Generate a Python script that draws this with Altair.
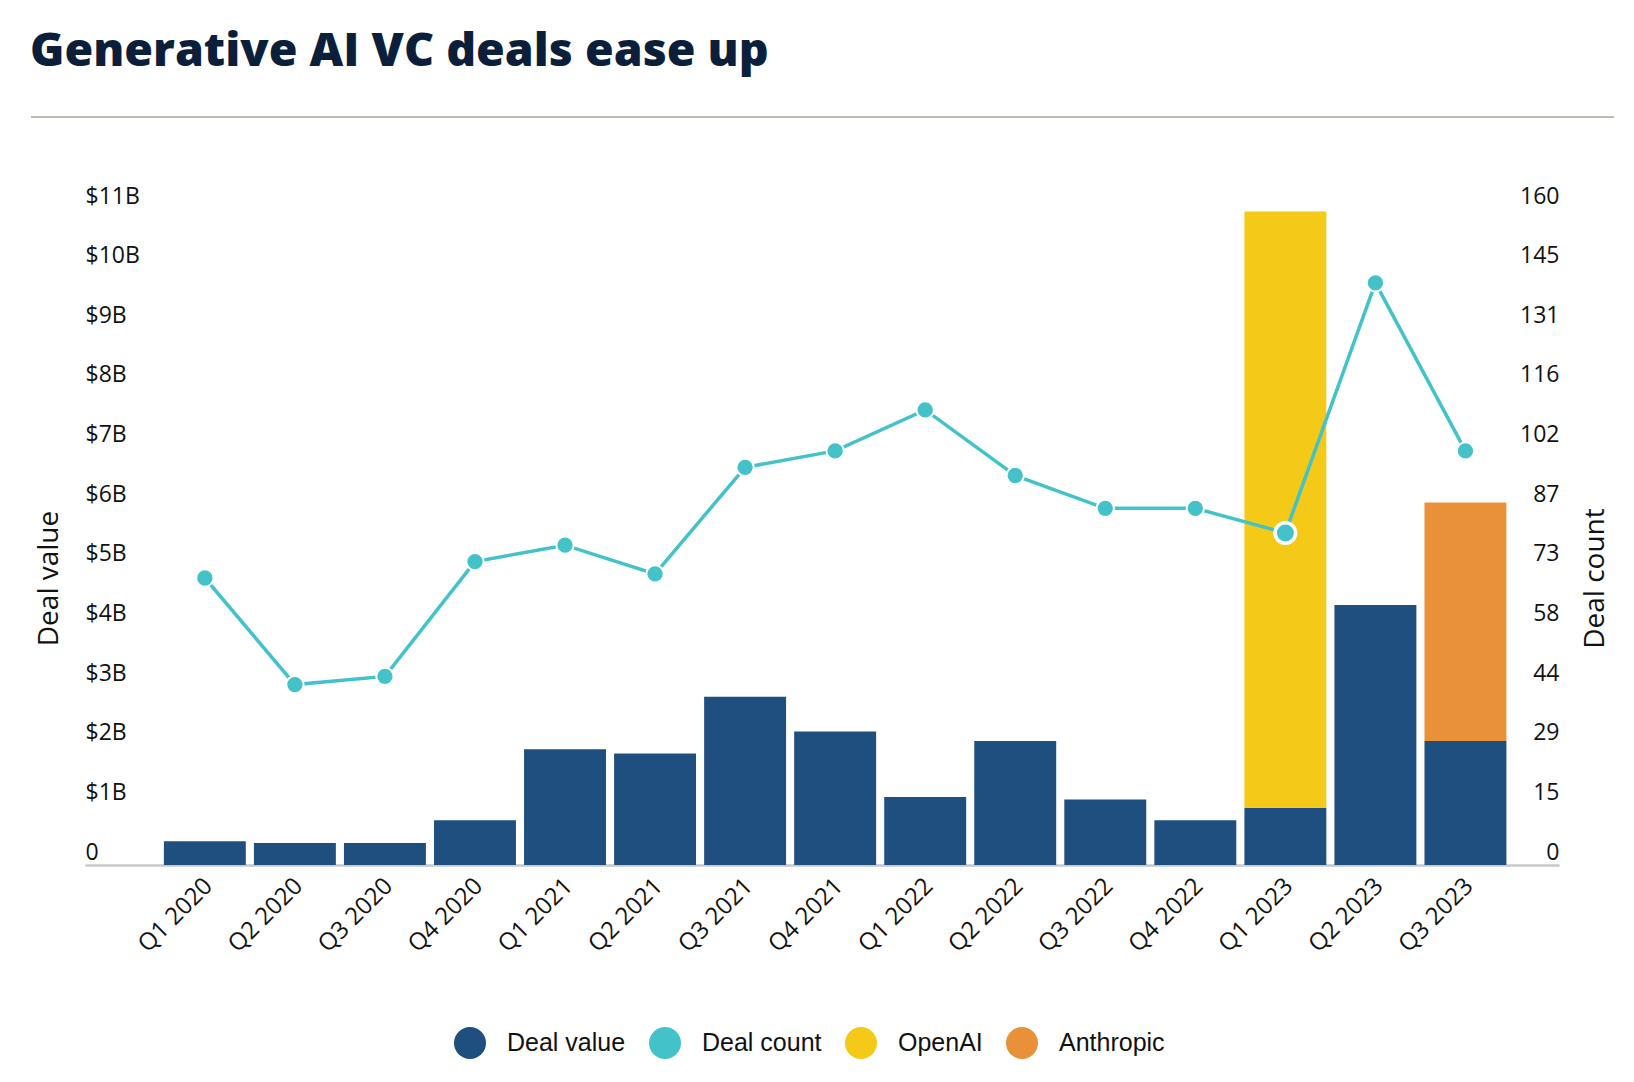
import altair as alt
import pandas as pd

# ---- data ----
quarters = ["Q1 2020", "Q2 2020", "Q3 2020", "Q4 2020",
            "Q1 2021", "Q2 2021", "Q3 2021", "Q4 2021",
            "Q1 2022", "Q2 2022", "Q3 2022", "Q4 2022",
            "Q1 2023", "Q2 2023", "Q3 2023"]
deal_value_b = [0.40, 0.37, 0.37, 0.75, 1.94, 1.87, 2.82, 2.24,
                1.14, 2.08, 1.10, 0.75, 0.96, 4.36, 2.08]
deal_count = [70, 44, 46, 74, 78, 71, 97, 101, 111, 95, 87, 87, 81, 142, 101]
openai_quarter = ["Q1 2023"]
openai_value_b = [10.0]
anthropic_quarter = ["Q3 2023"]
anthropic_value_b = [4.0]
highlight_quarter = "Q1 2023"

series_names = ["Deal value", "Deal count", "OpenAI", "Anthropic"]
series_colors = ["#1f4f7e", "#43c3c9", "#f5c917", "#e99138"]

value_ticks = list(range(0, 12))
value_tick_labels = ["0", "$1B", "$2B", "$3B", "$4B", "$5B", "$6B",
                     "$7B", "$8B", "$9B", "$10B", "$11B"]
count_ticks = [160 * k / 11 for k in range(12)]
count_tick_labels = ["0", "15", "29", "44", "58", "73", "87",
                     "102", "116", "131", "145", "160"]

# ---- tables ----
rows = []
for q, v in zip(quarters, deal_value_b):
    rows.append({"quarter": q, "series": "Deal value", "value": v, "order": 0})
for q, v in zip(openai_quarter, openai_value_b):
    rows.append({"quarter": q, "series": "OpenAI", "value": v, "order": 1})
for q, v in zip(anthropic_quarter, anthropic_value_b):
    rows.append({"quarter": q, "series": "Anthropic", "value": v, "order": 1})
bars_df = pd.DataFrame(rows)
count_df = pd.DataFrame({"quarter": quarters, "count": deal_count})

W, H = 1474, 656
FONT = "Open Sans"

def js_list(items):
    return "[" + ",".join("'" + s + "'" for s in items) + "]"

x_enc = alt.X(
    "quarter:N", sort=quarters, title=None,
    scale=alt.Scale(paddingInner=0.09, paddingOuter=0.73, align=0.6),
    axis=alt.Axis(labelAngle=-45, labelAlign="right", labelBaseline="middle",
                  labelPadding=17, labelOffset=4, labelFontSize=24, labelFont=FONT,
                  labelColor="#111111", ticks=False, domain=True,
                  domainColor="#c9c9c9", domainWidth=2.5, grid=False),
)

bars = alt.Chart(bars_df).mark_bar().encode(
    x=x_enc,
    y=alt.Y("value:Q", stack="zero",
            scale=alt.Scale(domain=[0, 11], nice=False),
            axis=alt.Axis(orient="left", values=value_ticks,
                          labelExpr=js_list(value_tick_labels) + "[round(datum.value)]",
                          labelAlign="left", labelBaseline="alphabetic",
                          labelOffset=-6, labelPadding=0, tickSize=0, ticks=False,
                          domain=False, grid=False, labelFont=FONT,
                          labelFontSize=23, labelColor="#111111",
                          labelOverlap=False,
                          title="Deal value", titleFont=FONT, titleFontSize=28,
                          titleFontWeight="normal", titleColor="#111111",
                          titleAngle=270, titleX=-36, titleY=369,
                          titleAlign="center", titleBaseline="middle")),
    color=alt.Color("series:N",
                    scale=alt.Scale(domain=series_names, range=series_colors),
                    legend=alt.Legend(title=None, orient="none",
                                      direction="horizontal",
                                      legendX=369, legendY=818,
                                      symbolType="circle", symbolSize=1024,
                                      symbolStrokeWidth=0,
                                      labelFont="Liberation Sans",
                                      labelFontSize=25, labelColor="#111111",
                                      labelOffset=21, columnPadding=23,
                                      padding=0)),
    order=alt.Order("order:Q"),
)

line = alt.Chart(count_df).mark_line(color="#43c3c9", strokeWidth=3.5).encode(
    x=x_enc,
    y=alt.Y("count:Q", scale=alt.Scale(domain=[0, 160], nice=False),
            axis=alt.Axis(orient="right", values=count_ticks,
                          labelExpr=js_list(count_tick_labels) + "[round(datum.value*11/160)]",
                          labelAlign="right", labelBaseline="alphabetic",
                          labelOffset=-6, labelPadding=0, tickSize=0, ticks=False,
                          domain=False, grid=False, labelFont=FONT,
                          labelFontSize=23, labelColor="#111111",
                          labelOverlap=False,
                          title="Deal count", titleFont=FONT, titleFontSize=28,
                          titleFontWeight="normal", titleColor="#111111",
                          titleAngle=270, titleX=36, titleY=369,
                          titleAlign="center", titleBaseline="middle")),
)

points = alt.Chart(count_df).mark_point(filled=True, fill="#43c3c9",
                                        stroke="white", opacity=1).encode(
    x=x_enc,
    y=alt.Y("count:Q"),
    size=alt.condition(alt.datum.quarter == highlight_quarter,
                       alt.value(420), alt.value(300)),
    strokeWidth=alt.condition(alt.datum.quarter == highlight_quarter,
                              alt.value(3.5), alt.value(2)),
)

rule = alt.Chart(pd.DataFrame({"a": [0]})).mark_rule(
    color="#bebcb1", strokeWidth=2).encode(
    x=alt.value(-54), x2=alt.value(W + 55), y=alt.value(-92))

chart = alt.layer(
    bars, alt.layer(line, points), rule
).resolve_scale(y="independent").properties(
    width=W, height=H,
    background="white",
    padding={"left": 77, "top": 201, "right": 67, "bottom": 209},
    autosize=alt.AutoSizeParams(type="none"),
    title=alt.TitleParams(text="Generative AI VC deals ease up",
                          anchor="start", frame="group", dx=-55, offset=4,
                          baseline="alphabetic", font=FONT, fontSize=46.5,
                          fontWeight=800, color="#0b1f3a"),
).configure_view(stroke=None, strokeWidth=0)

chart.save("out.html", embed_options={"renderer": "svg", "actions": False})
